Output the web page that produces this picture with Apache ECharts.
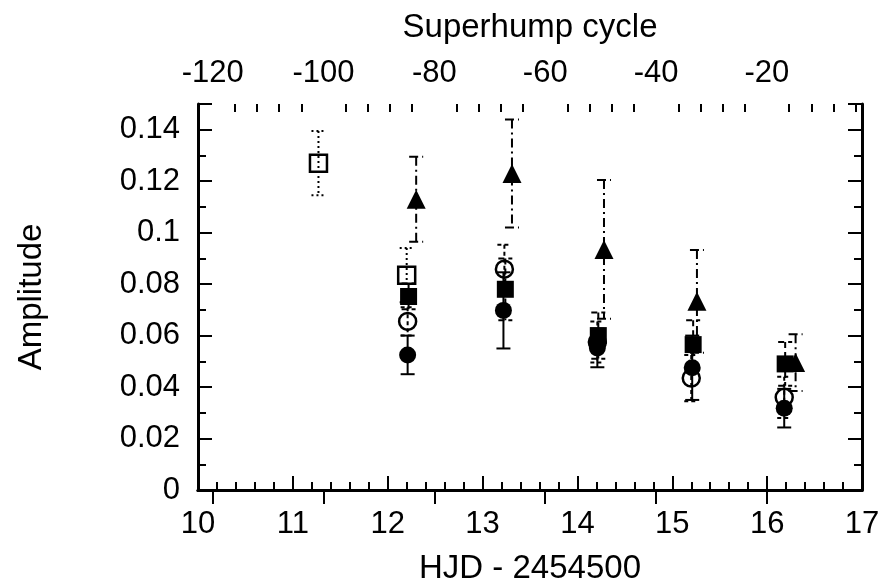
<!DOCTYPE html>
<html>
<head>
<meta charset="utf-8">
<script src="https://cdn.jsdelivr.net/npm/echarts@6/dist/echarts.min.js"></script>
<style>
  html, body { margin: 0; padding: 0; background: #fff; }
  #chart { width: 892px; height: 586px; }
</style>
</head>
<body>
<div id="chart"></div>
<script>
// amplitude data
var openSqX   = [11.27, 12.20];
var openSqY   = [0.1270, 0.0835];
var openSqErr = [0.0125, 0.0105];

var triX   = [12.30, 13.31, 14.28, 15.26, 16.30];
var triY   = [0.1130, 0.1230, 0.0935, 0.0733, 0.0495];
var triErr = [0.0165, 0.0210, 0.0270, 0.0200, 0.0110];

var fSqX   = [12.22, 13.24, 14.22, 15.22, 16.19];
var fSqY   = [0.0752, 0.0780, 0.0600, 0.0565, 0.0490];
var fSqErr = [0.0050, 0.0120, 0.0090, 0.0095, 0.0085];

var oCirX   = [12.21, 13.23, 14.21, 15.20, 16.18];
var oCirY   = [0.0655, 0.0858, 0.0575, 0.0435, 0.0360];
var oCirErr = [0.0055, 0.0095, 0.0080, 0.0090, 0.0080];

var fCirX   = [12.21, 13.22, 14.21, 15.21, 16.18];
var fCirY   = [0.0525, 0.0698, 0.0552, 0.0475, 0.0318];
var fCirErr = [0.0075, 0.0148, 0.0075, 0.0125, 0.0075];

var cycleLabels = [-120, -100, -80, -60, -40, -20];
var cycleMinor = [-116, -112, -108, -104, -96, -92, -88, -84, -76, -72, -68, -64,
                  -56, -52, -48, -44, -36, -32, -28, -24, -16, -12, -8, -4];

var chart = echarts.init(document.getElementById('chart'));

function points(xs, ys) {
    return xs.map(function (x, i) { return [x, ys[i]]; });
}

function bars(xs, ys, es) {
    return xs.map(function (x, i) { return [x, ys[i] - es[i], ys[i] + es[i]]; });
}

function errorBar(dash) {
    return function (params, api) {
        var x = api.value(0);
        var top = api.coord([x, api.value(2)]);
        var bot = api.coord([x, api.value(1)]);
        var cap = 7;
        var st = { stroke: '#000', lineWidth: 2, lineDash: dash, fill: null };
        return {
            type: 'group',
            children: [
                { type: 'line', shape: { x1: top[0], y1: top[1], x2: bot[0], y2: bot[1] }, style: st },
                { type: 'line', shape: { x1: top[0] - cap, y1: top[1], x2: top[0] + cap, y2: top[1] }, style: st },
                { type: 'line', shape: { x1: bot[0] - cap, y1: bot[1], x2: bot[0] + cap, y2: bot[1] }, style: st }
            ]
        };
    };
}

var font = 'Liberation Sans, Arial, sans-serif';
var lineStyle = { color: '#000', width: 3 };
var tickStyle = { color: '#000', width: 2 };
var tickFont = { color: '#000', fontSize: 31, fontFamily: font };
var titleFont = { color: '#000', fontSize: 33, fontFamily: font };

option = {
    animation: false,
    backgroundColor: '#fff',
    grid: { left: 198, right: 30, top: 104, bottom: 96, outerBoundsMode: 'none', containLabel: false },
    xAxis: [{
        type: 'value', position: 'bottom', min: 10, max: 17, interval: 1,
        axisLine: { lineStyle: lineStyle },
        axisTick: { inside: true, length: 14, lineStyle: tickStyle },
        minorTick: { show: true, splitNumber: 5, length: 8, lineStyle: tickStyle },
        splitLine: { show: false },
        axisLabel: Object.assign({ margin: 19 }, tickFont),
        name: 'HJD - 2454500', nameLocation: 'middle', nameGap: 62,
        nameTextStyle: titleFont
    }, {
        type: 'value', position: 'top', min: -122.65, max: -2.85,
        axisLine: { lineStyle: lineStyle },
        axisTick: { inside: true, length: 14, customValues: cycleLabels, lineStyle: tickStyle },
        splitLine: { show: false },
        axisLabel: Object.assign({ margin: 15, customValues: cycleLabels }, tickFont),
        name: 'Superhump cycle', nameLocation: 'middle', nameGap: 60,
        nameTextStyle: titleFont
    }, {
        type: 'value', position: 'top', min: -122.65, max: -2.85,
        axisLine: { show: false },
        axisTick: { inside: true, length: 8, customValues: cycleMinor, lineStyle: tickStyle },
        splitLine: { show: false },
        axisLabel: { show: false }
    }],
    yAxis: [{
        type: 'value', position: 'left', min: 0, max: 0.15, interval: 0.02,
        axisLine: { show: true, lineStyle: lineStyle },
        axisTick: { show: true, inside: true, length: 14, lineStyle: tickStyle },
        minorTick: { show: true, splitNumber: 2, length: 8, lineStyle: tickStyle },
        splitLine: { show: false },
        axisLabel: Object.assign({ margin: 18, showMaxLabel: false }, tickFont),
        name: 'Amplitude', nameLocation: 'middle', nameGap: 150,
        nameTextStyle: titleFont
    }, {
        type: 'value', position: 'right', min: 0, max: 0.15, interval: 0.02,
        axisLine: { show: true, lineStyle: lineStyle },
        axisTick: { show: true, inside: true, length: 14, lineStyle: tickStyle },
        minorTick: { show: true, splitNumber: 2, length: 8, lineStyle: tickStyle },
        splitLine: { show: false },
        axisLabel: { show: false }
    }],
    series: [
        { type: 'custom', renderItem: errorBar([2, 3]), data: bars(openSqX, openSqY, openSqErr), z: 2 },
        { type: 'custom', renderItem: errorBar([9, 4, 2, 4]), data: bars(triX, triY, triErr), z: 2 },
        { type: 'custom', renderItem: errorBar([6, 4]), data: bars(fSqX, fSqY, fSqErr), z: 2 },
        { type: 'custom', renderItem: errorBar([4, 3]), data: bars(oCirX, oCirY, oCirErr), z: 2 },
        { type: 'custom', renderItem: errorBar(null), data: bars(fCirX, fCirY, fCirErr), z: 2 },
        { type: 'scatter', symbol: 'rect', symbolSize: 17, data: points(openSqX, openSqY), z: 3,
          itemStyle: { color: 'rgba(0,0,0,0)', borderColor: '#000', borderWidth: 2.5, opacity: 1 } },
        { type: 'scatter', symbol: 'triangle', symbolSize: 19, data: points(triX, triY), z: 3,
          itemStyle: { color: '#000', opacity: 1 } },
        { type: 'scatter', symbol: 'rect', symbolSize: 17, data: points(fSqX, fSqY), z: 3,
          itemStyle: { color: '#000', opacity: 1 } },
        { type: 'scatter', symbol: 'circle', symbolSize: 17, data: points(oCirX, oCirY), z: 3,
          itemStyle: { color: 'rgba(0,0,0,0)', borderColor: '#000', borderWidth: 2.5, opacity: 1 } },
        { type: 'scatter', symbol: 'circle', symbolSize: 17, data: points(fCirX, fCirY), z: 3,
          itemStyle: { color: '#000', opacity: 1 } }
    ]
};

chart.setOption(option);
</script>
</body>
</html>
